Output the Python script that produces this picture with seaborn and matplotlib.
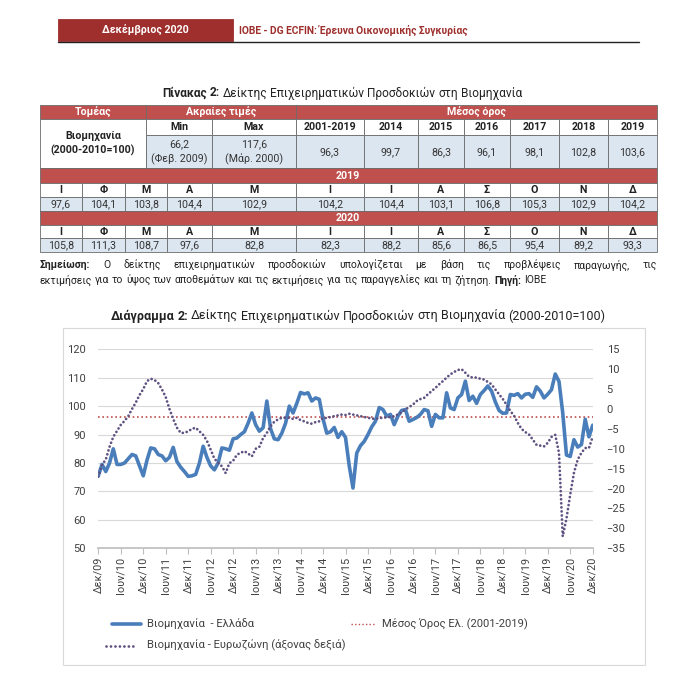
import numpy as np
import pandas as pd
import matplotlib
matplotlib.use("Agg")
import matplotlib.pyplot as plt
import seaborn as sns
from matplotlib import font_manager
from matplotlib.patches import Rectangle
from matplotlib.lines import Line2D

# ---------------- data ----------------
# table: extreme values and yearly averages
extremes = ["66,2\n(Φεβ. 2009)", "117,6\n(Μάρ. 2000)"]
avg_labels = ["2001-2019", "2014", "2015", "2016", "2017", "2018", "2019"]
avg_values = [96.3, 99.7, 86.3, 96.1, 98.1, 102.8, 103.6]
month_letters = ["Ι", "Φ", "Μ", "Α", "Μ", "Ι", "Ι", "Α", "Σ", "Ο", "Ν", "Δ"]
gr_2019 = [97.6, 104.1, 103.8, 104.4, 102.9, 104.2, 104.4, 103.1, 106.8, 105.3, 102.9, 104.2]
gr_2020 = [105.8, 111.3, 108.7, 97.6, 82.8, 82.3, 88.2, 85.6, 86.5, 95.4, 89.2, 93.3]

# chart: Greece industry confidence (left axis), monthly Dec 2009 - Dec 2018
gr_dec09 = [75.5]
gr_2010 = [79.5, 77, 80, 85, 79.5, 79.5, 80, 81.5, 83, 82.5, 79, 75.5]
gr_2011 = [81, 85.3, 85, 83, 82.5, 80.8, 82, 85.5, 80.5, 78.5, 77, 75.3]
gr_2012 = [75.5, 76, 80, 85.9, 82, 79, 77.6, 80, 85.3, 85, 84.5, 88.5]
gr_2013 = [88.8, 90, 91, 94, 97.6, 93.5, 91.2, 92.4, 101.8, 92, 88.5, 88.2]
gr_2014 = [90.5, 94, 100, 97.6, 101, 104.8, 104.3, 104.7, 101.8, 102.9, 102.4, 95.5]
gr_2015 = [90.5, 91, 92.5, 89, 91, 89, 79, 71.2, 83.5, 86.1, 87.6, 90]
gr_2016 = [92.7, 94.7, 99.5, 98.8, 96.5, 97.1, 93.5, 96.5, 98.5, 98.8, 94.7, 95.3]
gr_2017 = [96, 97.1, 98.8, 98.4, 92.9, 97.1, 95.9, 95.9, 104.7, 99.4, 98.8, 102.9]
gr_2018 = [104.1, 108.8, 102, 103.5, 101, 104.1, 105.5, 107.1, 105.3, 101.5, 98.5, 97.5]

# Eurozone industry confidence (right axis)
ez_dec09 = [-17]
ez_2010 = [-14, -12.7, -9.5, -7, -5.5, -4, -3, -1.8, 0, 1.6, 3.5, 5]
ez_2011 = [7, 7.6, 7.3, 6.5, 4.9, 3, 0, -2.5, -4.7, -6, -6, -5.6]
ez_2012 = [-5, -4.7, -5.6, -6.5, -8, -10.2, -12.5, -13.5, -14.4, -16.1, -13.6, -13]
ez_2013 = [-11.5, -11, -10.6, -11.2, -11.9, -10, -9.5, -7.3, -6, -4.3, -3.2, -2.6]
ez_2014 = [-2.2, -2.2, -2.2, -2.5, -2.2, -2.8, -3.1, -3.5, -3.7, -3.3, -3.1, -2.2]
ez_2015 = [-2.3, -2, -1.8, -1.6, -1.4, -1.5, -1.2, -1.4, -1.6, -1.8, -2, -2.2]
ez_2016 = [-2.4, -2.5, -2.3, -2.2, -2.1, -2, -1.8, -1.4, -0.8, -0.1, 0.5, 1.1]
ez_2017 = [2, 2.5, 2.8, 3.7, 4.5, 5.3, 6.2, 7, 7.9, 8.7, 9.3, 9.8]
ez_2018 = [10, 9.1, 8.1, 7.9, 7.9, 7.6, 7.4, 6.8, 6.2, 4.9, 3.7, 2.5]
ez_2019 = [1.1, -0.5, -1.7, -3.5, -5, -5.8, -6.4, -7.7, -9, -9.2, -9.4, -8.5]
ez_2020 = [-7, -6.5, -11, -32, -27.5, -21.5, -16, -12.7, -11, -9.8, -9.8, -7]

mean_2001_2019 = 96.3

greece = (gr_dec09 + gr_2010 + gr_2011 + gr_2012 + gr_2013 + gr_2014 + gr_2015
          + gr_2016 + gr_2017 + gr_2018 + gr_2019 + gr_2020)
eurozone = (ez_dec09 + ez_2010 + ez_2011 + ez_2012 + ez_2013 + ez_2014 + ez_2015
            + ez_2016 + ez_2017 + ez_2018 + ez_2019 + ez_2020)
months = list(range(len(greece)))
tick_pos = list(range(0, len(greece), 6))
tick_labels = [("Δεκ/%02d" % (9 + k // 2)) if k % 2 == 0 else ("Ιουν/%02d" % (10 + k // 2))
               for k in range(len(tick_pos))]

df = pd.DataFrame({"m": months, "greece": greece, "ez": eurozone})
df["mean"] = mean_2001_2019


# ---------------- style ----------------
def has_bold(name):
    for f in font_manager.fontManager.ttflist:
        if f.name == name:
            w = f.weight
            if isinstance(w, str):
                w = {"bold": 700, "semibold": 600, "demibold": 600, "heavy": 800, "black": 900}.get(w.lower(), 400)
            if w >= 600:
                return True
    return False


family = next((n for n in ["Noto Sans", "Roboto", "Open Sans", "Liberation Sans"] if has_bold(n)), "DejaVu Sans")
sns.set_theme(style="white")
plt.rcParams["font.family"] = [family, "DejaVu Sans"]

RED = "#c0504d"
DARKRED = "#9e2f2d"
BLUE = "#4a7ebb"
PURPLE = "#5f5282"
CELL = "#dce6f1"
TXT = "#404040"

W, H = 700, 674
fig = plt.figure(figsize=(W / 100, H / 100), dpi=100)
fig.patch.set_facecolor("white")
renderer = fig.canvas.get_renderer()


def fx(x):
    return x / W


def fy(y):
    return 1 - y / H


def box(x0, x1, y0, y1, face, edge="#6b6b6b", lw=0.6):
    fig.add_artist(Rectangle((fx(x0), fy(y1)), (x1 - x0) / W, (y1 - y0) / H,
                             transform=fig.transFigure, facecolor=face, edgecolor=edge, lw=lw))


def label(x, y, s, size=7.5, color="#222222", weight="normal", ha="center", **kw):
    return fig.text(fx(x), fy(y), s, fontsize=size, color=color, weight=weight,
                    ha=ha, va="center", **kw)


def width_of(s, size, weight="normal"):
    t = fig.text(0, 0, s, fontsize=size, weight=weight)
    w = t.get_window_extent(renderer).width
    t.remove()
    return w


def fit(s, target, weight="normal"):
    return 10 * target / width_of(s, 10, weight)


def words(x, y, tokens, size=None, target=None, color="#222222", ha="left", justify=None):
    # tokens: list of (word, bold); size can be fitted to a target width
    if target is not None:
        sp = width_of("a a", 10) - width_of("aa", 10)
        nat = sum(width_of(w, 10, "bold" if b else "normal") for w, b in tokens) + sp * (len(tokens) - 1)
        size = 10 * target / nat
    space = width_of("a a", size) - width_of("aa", size)
    ws = [width_of(w, size, "bold" if b else "normal") for w, b in tokens]
    gap = space
    if justify is not None:
        gap = (justify - x - sum(ws)) / (len(ws) - 1)
    total = sum(ws) + gap * (len(ws) - 1)
    cur = x - total / 2 if ha == "center" else x
    for (w, b), wd in zip(tokens, ws):
        label(cur, y, w, size=size, color=color, weight="bold" if b else "normal", ha="left")
        cur += wd + gap
    return size


def tok(text, bold=False):
    return [(w, bold) for w in text.split()]


# ---------------- page header ----------------
box(58, 233, 19, 41, DARKRED, edge=DARKRED)
label(145, 30, "Δεκέμβριος 2020", size=fit("Δεκέμβριος 2020", 87, "bold"), color="white", weight="bold")
hdr = "IOBE - DG ECFIN: Έρευνα Οικονομικής Συγκυρίας"
label(239, 30, hdr, size=fit(hdr, 230, "bold"), color=DARKRED, weight="bold", ha="left")
fig.add_artist(Line2D([fx(58), fx(639)], [fy(41.5)] * 2, color="#222222", lw=1.0))

# ---------------- table ----------------
words(342, 93, tok("Πίνακας 2:", True) + tok("Δείκτης Επιχειρηματικών Προσδοκιών στη Βιομηχανία"),
      target=360, color="#222222", ha="center")

cols = [40, 82, 125, 167, 212, 296, 364, 418, 464, 510, 559, 608, 657]
r_top, r_h2, r_v, r_y19, r_l19, r_v19, r_y20, r_l20, r_v20, r_end = 105, 119, 135, 168, 183, 197, 211, 225, 238, 252
fs = 7.7

box(40, 146, r_top, r_h2, RED)
box(146, 296, r_top, r_h2, RED)
box(296, 657, r_top, r_h2, RED)
label(93, (r_top + r_h2) / 2, "Τομέας", size=fs, color="white", weight="bold")
label(221, (r_top + r_h2) / 2, "Ακραίες τιμές", size=fs, color="white", weight="bold")
label(476, (r_top + r_h2) / 2, "Μέσος όρος", size=fs, color="white", weight="bold")

box(40, 146, r_h2, r_y19, "white")
label(93, (r_h2 + r_y19) / 2, "Βιομηχανία\n(2000-2010=100)", size=fs, weight="bold", linespacing=1.4)
head_cols = [(146, 212), (212, 296)] + [(cols[i], cols[i + 1]) for i in range(5, 12)]
head_text = ["Min", "Max"] + avg_labels
val_text = extremes + [("%.1f" % v).replace(".", ",") for v in avg_values]
for (a, b), h, v in zip(head_cols, head_text, val_text):
    box(a, b, r_h2, r_v, "white")
    label((a + b) / 2, (r_h2 + r_v) / 2, h, size=fs, weight="bold")
    box(a, b, r_v, r_y19, CELL)
    label((a + b) / 2, (r_v + r_y19) / 2 + 0.5, v, size=fs, color="#333333", linespacing=1.4)

for year, vals, (ya, yl, yv, yb) in [("2019", gr_2019, (r_y19, r_l19, r_v19, r_y20)),
                                     ("2020", gr_2020, (r_y20, r_l20, r_v20, r_end))]:
    box(40, 657, ya, yl, RED)
    label(348, (ya + yl) / 2, year, size=fs, color="white", weight="bold")
    for i in range(12):
        a, b = cols[i], cols[i + 1]
        box(a, b, yl, yv, "white")
        label((a + b) / 2, (yl + yv) / 2, month_letters[i], size=fs, weight="bold")
        box(a, b, yv, yb, CELL)
        label((a + b) / 2, (yv + yb) / 2, ("%.1f" % vals[i]).replace(".", ","), size=fs, color="#333333")

note1 = tok("Σημείωση:", True) + tok("Ο δείκτης επιχειρηματικών προσδοκιών υπολογίζεται με βάση τις προβλέψεις παραγωγής, τις")
note2 = (tok("εκτιμήσεις για το ύψος των αποθεμάτων και τις εκτιμήσεις για τις παραγγελίες και τη ζήτηση.")
         + tok("Πηγή:", True) + tok("IOBE"))
nsize = words(40, 280, note2, target=505)
words(40, 265, note1, nsize, justify=657)

# ---------------- chart ----------------
words(358, 316, tok("Διάγραμμα 2:", True) + tok("Δείκτης Επιχειρηματικών Προσδοκιών στη Βιομηχανία (2000-2010=100)"),
      target=495, color="#222222", ha="center")
box(63, 645, 328, 665, "none", edge="#d9d9d9", lw=0.8)

ax = fig.add_axes([fx(98.3), fy(548.3), (592.7 - 98.3) / W, (548.3 - 349.3) / H])
ax.set_facecolor("none")
sns.lineplot(data=df, x="m", y="mean", ax=ax, color=RED, lw=1.2, linestyle=(0, (1, 1.6)))
sns.lineplot(data=df, x="m", y="greece", ax=ax, color=BLUE, lw=2.6, solid_capstyle="round")
ax2 = ax.twinx()
sns.lineplot(data=df, x="m", y="ez", ax=ax2, color=PURPLE, lw=2.0,
             linestyle=(0, (0.01, 1.45)), dash_capstyle="round")

ax.set_xlim(0, 132)
ax.set_ylim(50, 120)
ax2.set_ylim(-35, 15)
ax.set_yticks(range(50, 121, 10))
ax2.set_yticks(range(-35, 16, 5))
ax.set_xticks(tick_pos)
ax.set_xticklabels(tick_labels, rotation=90)
ax.set_xlabel("")
ax.set_ylabel("")
ax2.set_ylabel("")
ax.tick_params(axis="x", length=4, width=0.8, color="#bfbfbf", pad=2, labelsize=7.8, labelcolor=TXT, bottom=True)
ax.tick_params(axis="y", length=0, pad=9, labelsize=8, labelcolor=TXT)
ax2.tick_params(axis="y", length=0, pad=10, labelsize=8, labelcolor=TXT)
ax.grid(axis="y", color="#d9d9d9", lw=0.8)
ax.grid(axis="x", visible=False)
for s in ["left", "right", "top"]:
    ax.spines[s].set_visible(False)
ax.spines["bottom"].set_color("#bfbfbf")
for s in ax2.spines.values():
    s.set_visible(False)

# legend
lg1 = "Βιομηχανία  - Ελλάδα"
lg2 = "Μέσος Όρος Ελ. (2001-2019)"
lg3 = "Βιομηχανία - Ευρωζώνη (άξονας δεξιά)"
lsize = fit(lg3, 200)
fig.add_artist(Line2D([fx(112), fx(141)], [fy(624)] * 2, color=BLUE, lw=2.6))
label(147, 624, lg1, size=lsize, color=TXT, ha="left")
fig.add_artist(Line2D([fx(351), fx(376)], [fy(624)] * 2, color=RED, lw=1.0, linestyle=(0, (1, 1.6))))
label(382, 624, lg2, size=lsize, color=TXT, ha="left")
fig.add_artist(Line2D([fx(106), fx(135)], [fy(645.5)] * 2, color=PURPLE, lw=2.0,
                      linestyle=(0, (0.01, 1.6)), dash_capstyle="round"))
label(147, 645.5, lg3, size=lsize, color=TXT, ha="left")

fig.savefig("out.png", dpi=100, facecolor="white")
